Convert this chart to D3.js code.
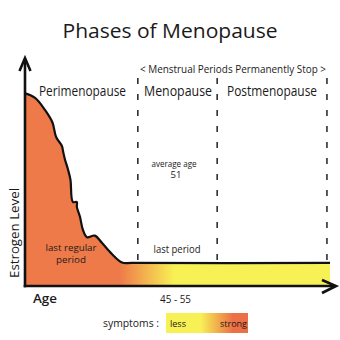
<!DOCTYPE html>
<html>
<head>
<meta charset="utf-8">
<script src="https://cdn.jsdelivr.net/npm/d3@7"></script>
<style>
  html, body { margin: 0; padding: 0; background: #fff; }
  svg { display: block; font-family: "Open Sans", "Noto Sans", sans-serif; }
</style>
</head>
<body>
<svg id="chart" width="340" height="340"></svg>
<script>
// Estrogen level over time (time 0..100, level 0..100)
const timePoints = [0, 3.3, 6.6, 9, 10.2, 12.1, 12.5, 13.1, 14.1, 14.9, 15.7, 17.0, 17.0, 18.0, 19.0, 20.3, 22.9, 25.2, 28.5, 31.8, 35.1, 100];
const estrogenLevels = [86, 84, 78.5, 73, 66.5, 62.5, 60, 56.5, 52, 47.5, 37.5, 37.5, 35.3, 31, 25, 21.8, 22.5, 19.3, 14.3, 10.5, 10.3, 10.3];

// Phase boundaries on the time axis
const phaseBounds = [37, 63, 99];
const phaseNames = ["Perimenopause", "Menopause", "Postmenopause"];

const title = "Phases of Menopause";
const bannerText = "< Menstrual Periods Permanently Stop >";
const yAxisTitle = "Estrogen Level";
const xAxisTitle = "Age";
const ageRange = "45 - 55";
const notes = { average: ["average age", "51"], lastRegular: ["last regular", "period"], lastPeriod: ["last period"] };
const legendTitle = "symptoms :";
const legendEnds = ["less", "strong"];

const orange = "#ef7a49";
const yellow = "#f8f155";

const svg = d3.select("#chart");

const x = d3.scaleLinear().domain([0, 100]).range([25, 330]);
const y = d3.scaleLinear().domain([0, 100]).range([286, 62]);

const defs = svg.append("defs");
const areaGrad = defs.append("linearGradient")
  .attr("id", "areaGrad").attr("gradientUnits", "userSpaceOnUse")
  .attr("x1", x(31)).attr("x2", x(49)).attr("y1", 0).attr("y2", 0);
areaGrad.append("stop").attr("offset", 0).attr("stop-color", orange);
areaGrad.append("stop").attr("offset", 1).attr("stop-color", yellow);

const legGrad = defs.append("linearGradient").attr("id", "legGrad");
legGrad.append("stop").attr("offset", 0.42).attr("stop-color", yellow);
legGrad.append("stop").attr("offset", 0.82).attr("stop-color", "#ec6f45");

const pts = timePoints.map((t, i) => [t, estrogenLevels[i]]);

// Filled area under the estrogen curve
svg.append("path")
  .datum(pts)
  .attr("d", d3.area().x(d => x(d[0])).y0(y(0)).y1(d => y(d[1])).curve(d3.curveCatmullRom.alpha(0.5)))
  .attr("fill", "url(#areaGrad)");

svg.append("path")
  .datum(pts)
  .attr("d", d3.line().x(d => x(d[0])).y(d => y(d[1])).curve(d3.curveCatmullRom.alpha(0.5)))
  .attr("fill", "none").attr("stroke", "#111").attr("stroke-width", 2.2);

// Dashed phase separators
const flatLevel = estrogenLevels[estrogenLevels.length - 1];
svg.selectAll("line.sep").data(phaseBounds).enter().append("line")
  .attr("class", "sep")
  .attr("x1", d => x(d)).attr("x2", d => x(d))
  .attr("y1", 78).attr("y2", y(flatLevel) - 1)
  .attr("stroke", "#111").attr("stroke-width", 1.4)
  .attr("stroke-dasharray", "6,10");

// Axes with open arrowheads
const ax = svg.append("g").attr("stroke", "#111").attr("fill", "none")
  .attr("stroke-width", 2.6).attr("stroke-linecap", "butt");
ax.append("line").attr("x1", x(0)).attr("x2", x(0)).attr("y1", y(0) + 1.3).attr("y2", 59);
ax.append("polyline").attr("points", `${x(0) - 5.5},71 ${x(0)},58 ${x(0) + 5.5},71`);
ax.append("line").attr("x1", x(0) - 1.3).attr("x2", 335).attr("y1", y(0)).attr("y2", y(0));
ax.append("polyline").attr("points", `322,280 336,${y(0)} 322,293`);

// Text
const txt = (s, px, py, size, opts = {}) => {
  const t = svg.append("text").attr("x", px).attr("y", py)
    .attr("font-size", size).attr("fill", "#1a1a1a")
    .attr("text-anchor", opts.anchor || "middle").text(s);
  if (opts.len) t.attr("textLength", opts.len).attr("lengthAdjust", "spacingAndGlyphs");
  if (opts.weight) t.attr("font-weight", opts.weight);
  return t;
};

txt(title, 170, 38, 19.5, { len: 215 });
txt(bannerText, 233, 73, 10.5, { len: 186 });
txt(phaseNames[0], 82.5, 96, 14, { len: 87 });
txt(phaseNames[1], 178, 96, 14, { len: 68 });
txt(phaseNames[2], 272, 96, 14, { len: 90 });
txt(notes.average[0], 174, 166.5, 9, { len: 45 });
txt(notes.average[1], 176, 178, 9.5);
txt(notes.lastRegular[0], 71, 251, 9.8, { len: 51 });
txt(notes.lastRegular[1], 71, 262.5, 9.8);
txt(notes.lastPeriod[0], 177, 253, 10, { len: 47 });
txt(xAxisTitle, 45, 303, 12.5, { len: 24, weight: 600 });
txt(ageRange, 175.5, 303, 11, { len: 31 });

svg.append("text")
  .attr("transform", `translate(19,233) rotate(-90)`)
  .attr("text-anchor", "middle").attr("font-size", 13).attr("fill", "#1a1a1a")
  .attr("textLength", 90).attr("lengthAdjust", "spacingAndGlyphs")
  .text(yAxisTitle);

// Symptom legend
txt(legendTitle, 131, 327, 11, { len: 56 });
svg.append("rect").attr("x", 166).attr("y", 313).attr("width", 82).attr("height", 20)
  .attr("fill", "url(#legGrad)");
txt(legendEnds[0], 170, 327, 9.5, { anchor: "start", len: 16 });
txt(legendEnds[1], 247, 327, 9.5, { anchor: "end", len: 27 });
</script>
</body>
</html>
